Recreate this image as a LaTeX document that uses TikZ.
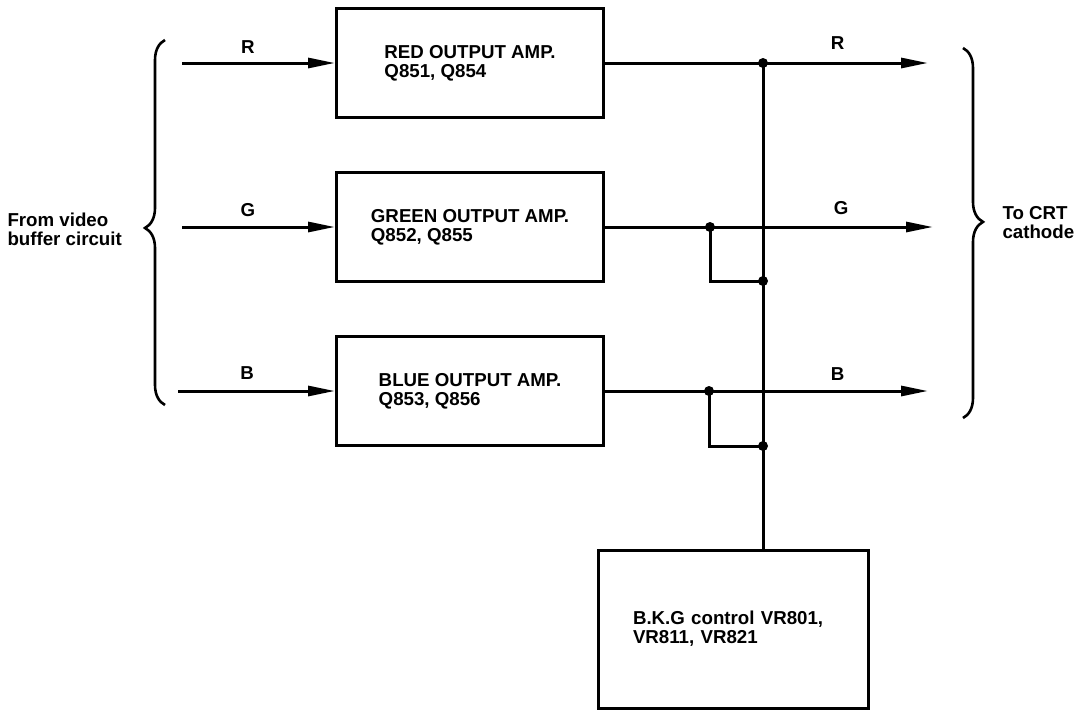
\documentclass[tikz,border=0pt]{standalone}
\usepackage{fontspec}
\setmainfont{Liberation Sans}
\usepackage{tikz}
\usetikzlibrary{arrows.meta,decorations.pathreplacing}

\begin{document}
\begin{tikzpicture}[
      x=1pt, y=-1pt,
      wire/.style={line width=3pt},
      sig/.style={wire, -{Triangle[length=27pt, width=10pt]}},
      lbl/.style={font=\bfseries\fontsize{18.7}{19}\selectfont},
      amp/.style={draw, line width=3pt, minimum width=267pt, minimum height=109pt,
                  align=left, lbl},
      brc/.style={line width=2.6pt, decorate, decoration={brace, amplitude=20pt}}
    ]

    \useasboundingbox (0,0) rectangle (1080,710);

    % ══ amplifier boxes ══════════════════════════════════════════════════════
    \node[amp] (redamp)   at (470,63)  {RED OUTPUT AMP.\\Q851, Q854};
    \node[amp] (greenamp) at (470,227) {GREEN OUTPUT AMP.\\Q852, Q855};
    \node[amp] (blueamp)  at (470,391) {BLUE OUTPUT AMP.\\Q853, Q856};
    \node[amp, minimum width=270pt, minimum height=158pt, text width=200pt]
      (bkg) at (733,629) {B.K.G control VR801,\\VR811, VR821};

    % line ends and junctions
    \coordinate (rin)  at (182,63);
    \coordinate (gin)  at (182,227);
    \coordinate (bin)  at (178,391);
    \coordinate (rout) at (928,63);
    \coordinate (gout) at (933,227);
    \coordinate (bout) at (928,391);
    \coordinate (rj) at (763,63);
    \coordinate (gj) at (710,227);
    \coordinate (gk) at (763,281);
    \coordinate (bj) at (709,391);
    \coordinate (bk) at (763,446);

    % ══ inputs ════════════════════════════════════════════════════════════════
    \draw[sig] (rin) -- (redamp.west)   node[lbl, above=5pt, pos=0.43] {R};
    \draw[sig] (gin) -- (greenamp.west) node[lbl, above=5pt, pos=0.43] {G};
    \draw[sig] (bin) -- (blueamp.west)  node[lbl, above=7pt, pos=0.44] {B};

    % ══ outputs ═══════════════════════════════════════════════════════════════
    \draw[sig] (redamp.east) -- (rout)   node[lbl, above=9pt, pos=0.72] {R};
    \draw[sig] (greenamp.east) -- (gout) node[lbl, above=7pt, pos=0.72] {G};
    \draw[sig] (blueamp.east) -- (bout)  node[lbl, above=6pt, pos=0.72] {B};

    % bus to B.K.G control
    \draw[wire] (rj) -- (rj |- bkg.north);
    \draw[wire] (gj) |- (gk);
    \draw[wire] (bj) |- (bk);
    \foreach \p in {rj, gj, gk, bj, bk}
      \fill (\p) circle (5pt);

    % ══ braces and side texts ════════════════════════════════════════════════
    \draw[brc, decoration={aspect=0.485}] (165,405) -- (165,40);
    \draw[brc, decoration={aspect=0.47}] (963,48) -- (963,418);

    \node[lbl, align=left, anchor=west] (src) at (4,229)
      {From video\\buffer circuit};
    \node[lbl, align=left, anchor=west] (crt) at (999,223)
      {To CRT\\cathode};

  \end{tikzpicture}
\end{document}
